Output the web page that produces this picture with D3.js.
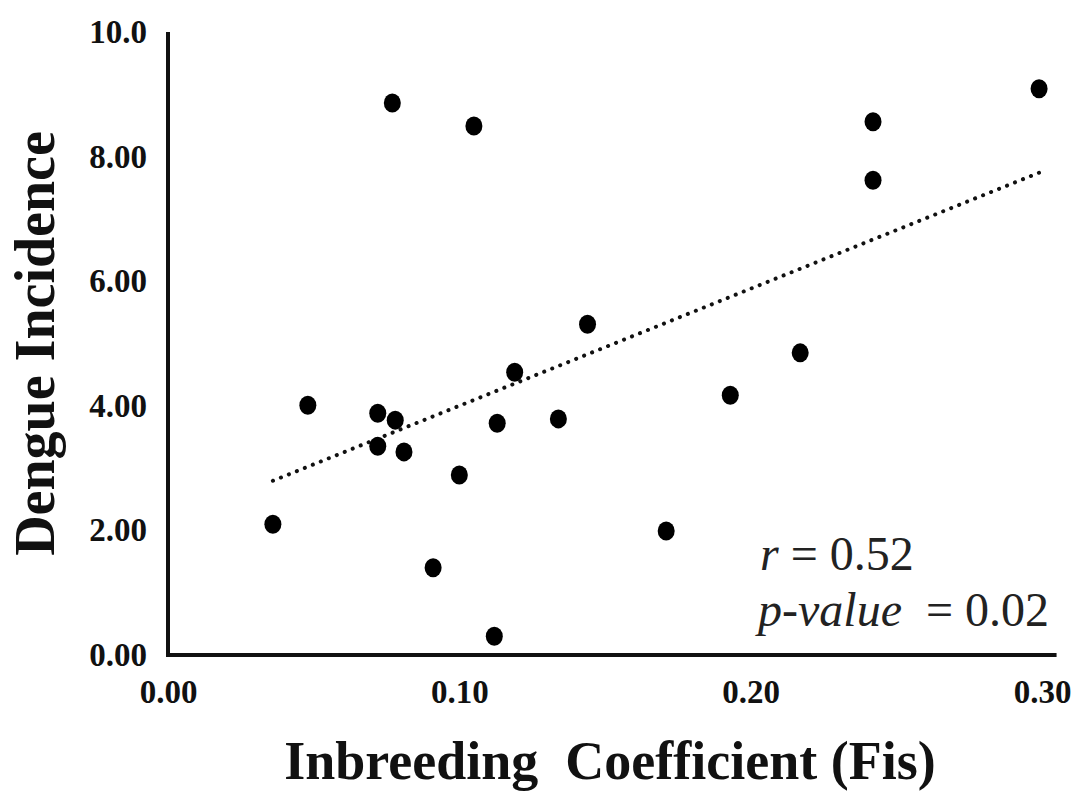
<!DOCTYPE html>
<html>
<head>
<meta charset="utf-8">
<script src="https://cdn.jsdelivr.net/npm/d3@7"></script>
<style>
  body { margin: 0; background: #fff; }
</style>
</head>
<body>
<div id="chart"></div>
<script>
// data
var fis = [0.036, 0.048, 0.072, 0.072, 0.078, 0.081, 0.077, 0.091, 0.100, 0.105, 0.113,
           0.112, 0.119, 0.134, 0.144, 0.171, 0.193, 0.217, 0.242, 0.242, 0.299];
var incidence = [2.10, 4.01, 3.88, 3.35, 3.77, 3.26, 8.86, 1.40, 2.89, 8.49, 3.72,
                 0.30, 4.54, 3.79, 5.31, 1.99, 4.17, 4.85, 8.56, 7.62, 9.09];
var xTicks = [0, 0.1, 0.2, 0.3];
var yTicks = [0, 2, 4, 6, 8, 10];
var yTickLabels = ["0.00", "2.00", "4.00", "6.00", "8.00", "10.0"];
var trend = [18.8, 2.12]; // slope, intercept
var stats = ["0.52", "0.02"];

var svgWidth = 1079;
var svgHeight = 792;

var svg = d3.select("#chart")
  .append("svg")
  .attr("width", svgWidth)
  .attr("height", svgHeight);

var xScale = d3.scaleLinear()
  .domain([0, 0.3])
  .range([168, 1042]);

var yScale = d3.scaleLinear()
  .domain([0, 10])
  .range([655, 32]);

var serif = "'Liberation Serif', 'Times New Roman', serif";

// axes (no tick marks)
var bottomAxis = d3.axisBottom(xScale)
  .tickValues(xTicks)
  .tickSize(0)
  .tickPadding(25)
  .tickFormat(d3.format(".2f"));

var leftAxis = d3.axisLeft(yScale)
  .tickValues(yTicks)
  .tickSize(0)
  .tickPadding(21)
  .tickFormat((d, i) => yTickLabels[i]);

var gx = svg.append("g")
  .attr("transform", `translate(0, ${yScale(0)})`)
  .call(bottomAxis);
gx.select(".domain").remove();

var gy = svg.append("g")
  .attr("transform", `translate(${xScale(0)}, 0)`)
  .call(leftAxis);
gy.select(".domain").remove();

svg.selectAll(".tick text")
  .attr("font-family", serif)
  .attr("font-size", "33px")
  .attr("font-weight", "bold")
  .attr("fill", "#111");

gx.selectAll(".tick text").attr("dy", "0.71em");

// axis lines
svg.append("line")
  .attr("x1", xScale(0)).attr("x2", xScale(0))
  .attr("y1", yScale(10)).attr("y2", yScale(0) + 2)
  .attr("stroke", "#111").attr("stroke-width", 4);

svg.append("line")
  .attr("x1", xScale(0) - 2).attr("x2", xScale(0.305))
  .attr("y1", yScale(0)).attr("y2", yScale(0))
  .attr("stroke", "#111").attr("stroke-width", 4);

// trend line
var xMin = d3.min(fis), xMax = d3.max(fis);
svg.append("line")
  .attr("x1", xScale(xMin))
  .attr("y1", yScale(trend[0] * xMin + trend[1]))
  .attr("x2", xScale(xMax))
  .attr("y2", yScale(trend[0] * xMax + trend[1]))
  .attr("stroke", "#111")
  .attr("stroke-width", 4)
  .attr("stroke-linecap", "round")
  .attr("stroke-dasharray", "0.1 8.5");

// points
svg.selectAll("ellipse.pt")
  .data(fis)
  .enter()
  .append("ellipse")
  .attr("class", "pt")
  .attr("cx", d => xScale(d))
  .attr("cy", (d, i) => yScale(incidence[i]))
  .attr("rx", 8.5)
  .attr("ry", 9.5)
  .attr("fill", "#000");

// axis titles
svg.append("text")
  .attr("transform", `translate(54, ${yScale(5)}) rotate(-90)`)
  .attr("text-anchor", "middle")
  .attr("font-family", serif)
  .attr("font-size", "56px")
  .attr("font-weight", "bold")
  .attr("fill", "#111")
  .text("Dengue Incidence");

svg.append("text")
  .attr("x", 610)
  .attr("y", 779)
  .attr("text-anchor", "middle")
  .attr("font-family", serif)
  .attr("font-size", "54px")
  .attr("font-weight", "bold")
  .attr("fill", "#111")
  .style("white-space", "pre")
  .text("Inbreeding  Coefficient (Fis)");

// stats annotation
var t1 = svg.append("text")
  .attr("x", 760)
  .attr("y", 570)
  .attr("font-family", serif)
  .attr("font-size", "48px")
  .attr("fill", "#222");
t1.append("tspan").attr("font-style", "italic").text("r");
t1.append("tspan").text(" = " + stats[0]);

var t2 = svg.append("text")
  .attr("x", 758)
  .attr("y", 626)
  .attr("font-family", serif)
  .attr("font-size", "48px")
  .attr("fill", "#222")
  .style("white-space", "pre");
t2.append("tspan").attr("font-style", "italic").text("p-value");
t2.append("tspan").text("  = " + stats[1]);
</script>
</body>
</html>
